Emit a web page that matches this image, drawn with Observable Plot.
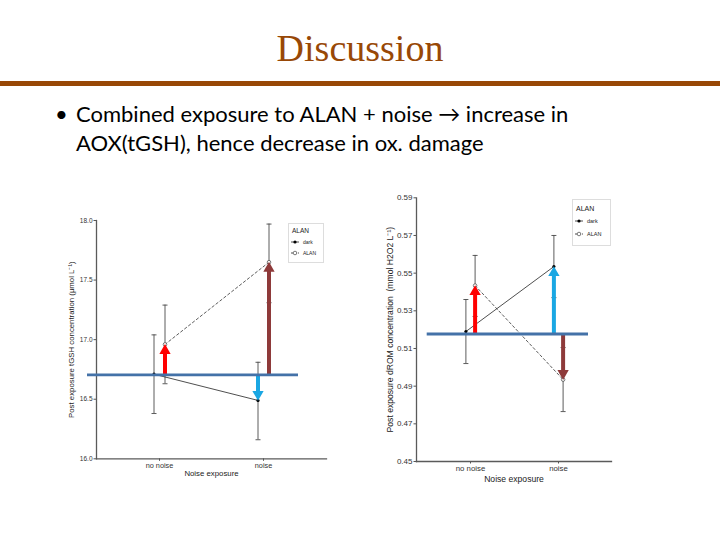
<!DOCTYPE html>
<html><head><meta charset="utf-8">
<script src="https://cdn.jsdelivr.net/npm/d3@7"></script>
<script src="https://cdn.jsdelivr.net/npm/@observablehq/plot@0.6"></script>
<style>
body{margin:0;background:#fff;}
#slide{position:relative;width:720px;height:540px;overflow:hidden;background:#fff;font-family:"Liberation Sans",Arial,sans-serif;}
#title{position:absolute;left:0;top:26px;width:720px;text-align:center;font-family:"Liberation Serif",serif;font-size:38px;line-height:44px;color:#984806;}
#rule{position:absolute;left:0;top:81px;width:720px;height:5px;background:#984806;}
#bulletDot{position:absolute;left:55px;top:99px;font-family:Lato,sans-serif;font-size:22px;line-height:29px;}
#bullet{position:absolute;left:76px;top:99px;width:560px;font-family:Lato,sans-serif;font-size:22px;line-height:29px;color:#000;}
.chart{position:absolute;}
.chart svg{overflow:visible;}
.legend{position:absolute;}
</style>
</head><body>
<div id="slide">
  <div id="title">Discussion</div>
  <div id="rule"></div>
  <div id="bulletDot">•</div>
  <div id="bullet">Combined exposure to ALAN + noise → increase in AOX(tGSH), hence decrease in ox. damage</div>
  <div id="left" class="chart" style="left:40px;top:200px;"></div>
  <div id="right" class="chart" style="left:370px;top:180px;"></div>
</div>
<script>
// ---------- data ----------
const noiseLevels = ["no noise", "noise"];
const alanGroups = ["dark", "ALAN"];

// tGSH (left chart)
const tgshDarkMean = [16.71, 16.49];
const tgshDarkLow  = [16.38, 16.16];
const tgshDarkHigh = [17.04, 16.81];
const tgshAlanMean = [16.96, 17.65];
const tgshAlanLow  = [16.63, 17.31];
const tgshAlanHigh = [17.29, 17.97];
const tgshBaseline = 16.705;
const tgshTicks = [16.0, 16.5, 17.0, 17.5, 18.0];

// dROM (right chart)
const dromDarkMean = [0.519, 0.5535];
const dromDarkLow  = [0.502, 0.537];
const dromDarkHigh = [0.536, 0.570];
const dromAlanMean = [0.5434, 0.4935];
const dromAlanLow  = [0.527, 0.4765];
const dromAlanHigh = [0.5594, 0.5105];
const dromBaseline = 0.5177;
const dromTicks = [0.45, 0.47, 0.49, 0.51, 0.53, 0.55, 0.57, 0.59];

// arrows: from baseline to a group's mean
const arrowNoise = ["no noise", "noise", "noise"];
const arrowGroup = ["ALAN", "dark", "ALAN"];
const arrowColors = ["#FF0000", "#1AA7E3", "#8E3A3A"];

// ---------- helpers ----------
function buildRows(dm, dl, dh, am, al, ah) {
  return noiseLevels.flatMap((n, i) => [
    {noise: n, group: "dark", mean: dm[i], low: dl[i], high: dh[i]},
    {noise: n, group: "ALAN", mean: am[i], low: al[i], high: ah[i]}
  ]);
}
const capSymbol = {draw(ctx, size) { const w = Math.sqrt(size / Math.PI); ctx.moveTo(-w, 0); ctx.lineTo(w, 0); }};

function drawChart(o) {
  const rows = buildRows(...o.series);
  const dark = rows.filter(d => d.group === "dark");
  const alan = rows.filter(d => d.group === "ALAN");
  const off = g => g === "dark" ? -o.dodge : o.dodge;
  const arrows = arrowNoise.map((n, i) => {
    const row = rows.find(d => d.noise === n && d.group === arrowGroup[i]);
    return {noise: n, group: arrowGroup[i], tip: row.mean, base: o.baseline, color: arrowColors[i]};
  });
  const arrowMarks = arrows.flatMap(a => {
    const up = a.tip > a.base;
    return [
      Plot.ruleX([a], up
        ? {x: "noise", y1: "tip", y2: "base", dx: off(a.group), stroke: a.color, strokeWidth: 4, insetTop: 7}
        : {x: "noise", y1: "base", y2: "tip", dx: off(a.group), stroke: a.color, strokeWidth: 4, insetBottom: 7}),
      Plot.dot([a], {x: "noise", y: "tip", dx: off(a.group), dy: up ? 6.2 : -6.2, rotate: up ? 0 : 180,
        symbol: "triangle", r: 4.2, fill: a.color, stroke: "none"})
    ];
  });
  const errMarks = [dark, alan].flatMap(set => {
    const dx = off(set[0].group);
    return [
      Plot.ruleX(set, {x: "noise", y1: "low", y2: "high", dx, stroke: "#4a4a4a", strokeWidth: 0.9}),
      Plot.dot(set, {x: "noise", y: "low", dx, symbol: capSymbol, r: 2.5, stroke: "#4a4a4a", fill: "none", strokeWidth: 0.9}),
      Plot.dot(set, {x: "noise", y: "high", dx, symbol: capSymbol, r: 2.5, stroke: "#4a4a4a", fill: "none", strokeWidth: 0.9})
    ];
  });
  const plot = Plot.plot({
    width: o.width, height: o.height,
    marginLeft: o.ml, marginRight: o.mr, marginTop: o.mt, marginBottom: o.mb,
    style: {background: "transparent", fontFamily: "'Liberation Sans', Arial, sans-serif", overflow: "visible"},
    x: {type: "point", domain: noiseLevels, padding: 0.6},
    y: {domain: o.domain},
    marks: [
      Plot.axisY({ticks: o.ticks, tickFormat: o.fmt, tickSize: 2.5, tickPadding: 1.5, fontSize: o.yfs,
        fill: "#333", stroke: "#555", label: null}),
      Plot.axisX({tickSize: 2.5, tickPadding: 1.5, fontSize: o.xfs, fill: "#333", stroke: "#555", label: null}),
      Plot.text([o.ylabel], {frameAnchor: "left", dx: o.ydx, rotate: -90, textAnchor: "middle", lineAnchor: "middle",
        fontSize: o.lfs, fill: "#222", text: d => d}),
      Plot.text(["Noise exposure"], {frameAnchor: "bottom", dy: o.xdy, textAnchor: "middle", lineAnchor: "middle",
        fontSize: o.lfs, fill: "#222", text: d => d}),
      Plot.frame({anchor: "left", stroke: "#5a5a5a", strokeWidth: 1.3}),
      Plot.frame({anchor: "bottom", stroke: "#5a5a5a", strokeWidth: 1.3}),
      ...errMarks,
      Plot.line(dark, {x: "noise", y: "mean", dx: off("dark"), stroke: "#222", strokeWidth: 0.8}),
      Plot.line(alan, {x: "noise", y: "mean", dx: off("ALAN"), stroke: "#333", strokeWidth: 0.8, strokeDasharray: "2.5,2.5"}),
      Plot.dot(dark, {x: "noise", y: "mean", dx: off("dark"), r: 1.6, fill: "#000", stroke: "none"}),
      Plot.dot(alan, {x: "noise", y: "mean", dx: off("ALAN"), r: 1.8, fill: "#fff", stroke: "#444", strokeWidth: 0.7}),
      ...arrowMarks,
      Plot.ruleY([o.baseline], {stroke: "#4472A8", strokeWidth: 2.8, insetLeft: o.insL, insetRight: o.insR})
    ]
  });
  document.getElementById(o.id).appendChild(plot);

  // legend box (ggplot-style)
  const lg = d3.select("#slide").append("svg").attr("class", "legend")
    .style("left", o.lg.x + "px").style("top", o.lg.y + "px")
    .attr("width", o.lg.w).attr("height", o.lg.h);
  lg.append("rect").attr("x", 0.5).attr("y", 0.5).attr("width", o.lg.w - 1).attr("height", o.lg.h - 1)
    .attr("fill", "#fff").attr("stroke", "#ddd");
  lg.append("text").attr("x", 4).attr("y", o.lg.ty).attr("font-size", o.lg.tfs).attr("fill", "#222")
    .attr("font-family", "'Liberation Sans', Arial").text("ALAN");
  alanGroups.forEach((g, i) => {
    const y = o.lg.ey[i];
    lg.append("line").attr("x1", 3).attr("x2", 11).attr("y1", y).attr("y2", y)
      .attr("stroke", "#222").attr("stroke-width", 0.8).attr("stroke-dasharray", g === "ALAN" ? "2,1.5" : null);
    lg.append("circle").attr("cx", 7).attr("cy", y).attr("r", g === "ALAN" ? 1.8 : 1.6)
      .attr("fill", g === "ALAN" ? "#fff" : "#000").attr("stroke", g === "ALAN" ? "#444" : "none").attr("stroke-width", 0.7);
    lg.append("text").attr("x", 15).attr("y", y + 2).attr("font-size", o.lg.efs).attr("fill", "#222")
      .attr("font-family", "'Liberation Sans', Arial").text(g);
  });
}

drawChart({
  id: "left", width: 300, height: 290, ml: 56, mr: 14, mt: 20, mb: 31.7,
  series: [tgshDarkMean, tgshDarkLow, tgshDarkHigh, tgshAlanMean, tgshAlanLow, tgshAlanHigh],
  baseline: tgshBaseline, domain: [16, 18], ticks: tgshTicks, fmt: d3.format(".1f"),
  ylabel: "Post exposure tGSH concentration (μmol L⁻¹)", ydx: -25, xdy: 15, yfs: 6.5, xfs: 7.3, lfs: 7.8,
  dodge: 5.5, insL: -9, insR: 28,
  lg: {x: 288, y: 223, w: 36, h: 40, ty: 10, tfs: 6.5, ey: [19, 30], efs: 5}
});
drawChart({
  id: "right", width: 250, height: 310, ml: 46, mr: 9, mt: 17.3, mb: 29,
  series: [dromDarkMean, dromDarkLow, dromDarkHigh, dromAlanMean, dromAlanLow, dromAlanHigh],
  baseline: dromBaseline, domain: [0.45, 0.59], ticks: dromTicks, fmt: d3.format(".2f"),
  ylabel: "Post exposure dROM concentration  (mmol H2O2 L⁻¹)", ydx: -26, xdy: 18, yfs: 8, xfs: 7.8, lfs: 8.6,
  dodge: 4.6, insL: 10.7, insR: 23,
  lg: {x: 572, y: 199, w: 39, h: 47, ty: 12, tfs: 7, ey: [22, 35], efs: 5.5}
});
</script>
</body></html>
